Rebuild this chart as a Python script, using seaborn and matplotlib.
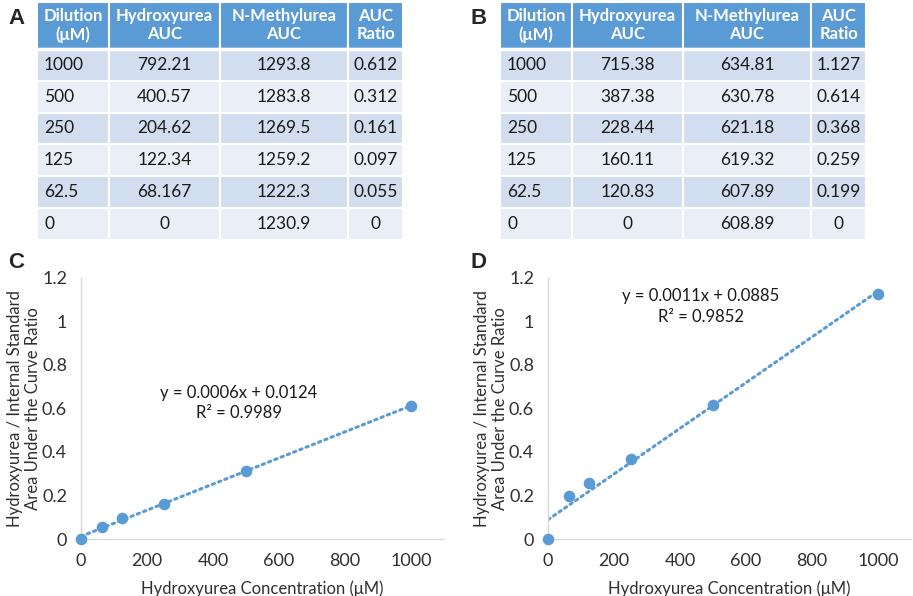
import matplotlib
matplotlib.use("Agg")
import matplotlib.pyplot as plt
from matplotlib.patches import Rectangle
import numpy as np
import pandas as pd
import seaborn as sns

# table / curve data
dilution = [1000, 500, 250, 125, 62.5, 0]
dilution_txt = ["1000", "500", "250", "125", "62.5", "0"]
hu_auc_a = ["792.21", "400.57", "204.62", "122.34", "68.167", "0"]
nmu_auc_a = ["1293.8", "1283.8", "1269.5", "1259.2", "1222.3", "1230.9"]
ratio_a = [0.612, 0.312, 0.161, 0.097, 0.055, 0]
ratio_a_txt = ["0.612", "0.312", "0.161", "0.097", "0.055", "0"]

hu_auc_b = ["715.38", "387.38", "228.44", "160.11", "120.83", "0"]
nmu_auc_b = ["634.81", "630.78", "621.18", "619.32", "607.89", "608.89"]
ratio_b = [1.127, 0.614, 0.368, 0.259, 0.199, 0]
ratio_b_txt = ["1.127", "0.614", "0.368", "0.259", "0.199", "0"]

headers = ["Dilution\n(\u03bcM)", "Hydroxyurea\nAUC", "N-Methylurea\nAUC", "AUC\nRatio"]
eq_c = "y = 0.0006x + 0.0124\nR\u00b2 = 0.9989"
eq_d = "y = 0.0011x + 0.0885\nR\u00b2 = 0.9852"

BLUE = "#5B9BD5"
ROW_DARK = "#D2DEEF"
ROW_LIGHT = "#EAEFF7"
TXT = "#1a1a1a"

sns.set_theme(style="white")
plt.rcParams["font.family"] = ["Lato", "DejaVu Sans"]

W, H = 913, 596
fig = plt.figure(figsize=(W / 100, H / 100), dpi=100)


def fig_axes(x0, y0, x1, y1):
    # pixel box (top-left origin) -> figure axes
    return fig.add_axes([x0 / W, 1 - y1 / H, (x1 - x0) / W, (y1 - y0) / H])


def draw_table(box, cols):
    ax = fig_axes(*box)
    col_w = [72, 111, 128, 55]
    head_h, row_h = 47, 32
    n_rows = len(cols[0])
    total_h = head_h + n_rows * row_h
    ax.set_xlim(0, sum(col_w))
    ax.set_ylim(total_h, 0)
    ax.axis("off")
    edges = np.concatenate([[0], np.cumsum(col_w)])
    for j, hdr in enumerate(headers):
        ax.add_patch(Rectangle((edges[j], 0), col_w[j], head_h, facecolor=BLUE,
                               edgecolor="white", linewidth=1.5))
        ax.text(edges[j] + col_w[j] / 2, head_h / 2, hdr, ha="center", va="center",
                color="white", fontsize=12, fontweight="bold", linespacing=1.15)
    for i in range(n_rows):
        y = head_h + i * row_h
        fc = ROW_DARK if i % 2 == 0 else ROW_LIGHT
        for j in range(len(cols)):
            ax.add_patch(Rectangle((edges[j], y), col_w[j], row_h, facecolor=fc,
                                   edgecolor="white", linewidth=1.5))
            if j == 0:
                ax.text(edges[j] + 7, y + row_h / 2, cols[j][i], ha="left", va="center",
                        color=TXT, fontsize=12.5)
            else:
                ax.text(edges[j] + col_w[j] / 2, y + row_h / 2, cols[j][i], ha="center",
                        va="center", color=TXT, fontsize=12.5)
    ax.plot([0, sum(col_w)], [head_h, head_h], color="white", lw=2.5)


def draw_curve(box, ratio, eq, eq_xy):
    ax = fig_axes(*box)
    df = pd.DataFrame({"conc": dilution, "ratio": ratio})
    sns.regplot(data=df, x="conc", y="ratio", ax=ax, ci=None, scatter=False,
                line_kws=dict(color=BLUE, lw=2.2, linestyle=(0, (0.8, 1.4)),
                              dash_capstyle="round"))
    sns.scatterplot(data=df, x="conc", y="ratio", ax=ax, color=BLUE, s=70,
                    edgecolor=BLUE, linewidth=0, zorder=3, clip_on=False)
    ax.set_xlim(0, 1100)
    ax.set_ylim(0, 1.2)
    ax.set_xticks([0, 200, 400, 600, 800, 1000])
    ax.set_yticks([0, 0.2, 0.4, 0.6, 0.8, 1, 1.2])
    ax.set_yticklabels(["0", "0.2", "0.4", "0.6", "0.8", "1", "1.2"])
    ax.tick_params(axis="both", length=0, labelsize=13, colors="#303030", pad=10)
    sns.despine(ax=ax)
    for s in ["left", "bottom"]:
        ax.spines[s].set_color("#D9D9D9")
        ax.spines[s].set_linewidth(1)
    ax.set_xlabel("Hydroxyurea Concentration (\u03bcM)", fontsize=12, color="#303030",
                  labelpad=8)
    ax.set_ylabel("Hydroxyurea / Internal Standard\nArea Under the Curve Ratio",
                  fontsize=12, color="#303030", linespacing=1.1, labelpad=1)
    ax.text(eq_xy[0], eq_xy[1], eq, ha="center", va="center", fontsize=12,
            color=TXT, linespacing=1.35)
    ax.patch.set_alpha(0)


draw_table((37, 2, 403, 240), [dilution_txt, hu_auc_a, nmu_auc_a, ratio_a_txt])
draw_table((500, 2, 866, 240), [dilution_txt, hu_auc_b, nmu_auc_b, ratio_b_txt])
draw_curve((81, 278, 444, 539), ratio_a, eq_c, (479, 0.625))
draw_curve((548, 278, 911, 539), ratio_b, eq_d, (464, 1.07))

for lbl, (x, y) in zip("ABCD", [(8, 18), (470, 18), (8, 263), (470, 263)]):
    fig.text(x / W, 1 - y / H, lbl, fontsize=16, fontweight="bold",
             family="Liberation Sans", va="center", ha="left")

fig.savefig("out.png", dpi=100)
